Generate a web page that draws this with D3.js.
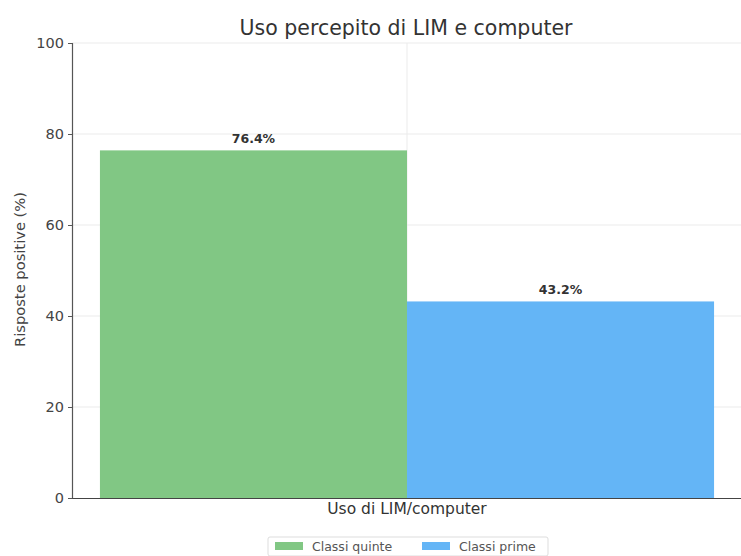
<!DOCTYPE html>
<html>
<head>
<meta charset="utf-8">
<script src="https://cdn.jsdelivr.net/npm/d3@7"></script>
<style>
  html, body { margin: 0; padding: 0; background: #fff; }
  svg { display: block; font-family: "DejaVu Sans", sans-serif; }
</style>
</head>
<body>
<svg id="chart" width="741" height="556"></svg>
<script>
// Data
const categories = ["Uso di LIM/computer"];
const seriesNames = ["Classi quinte", "Classi prime"];
const seriesColors = ["#81c784", "#64b5f6"];
const classiQuinte = [76.4];
const classiPrime = [43.2];
const yTicks = [0, 20, 40, 60, 80, 100];

const W = 741, H = 556;
const margin = { top: 43, right: -1, bottom: 58, left: 72 };
const innerW = W - margin.left - margin.right;
const innerH = H - margin.top - margin.bottom;

const svg = d3.select("#chart");
const g = svg.append("g").attr("transform", `translate(${margin.left},${margin.top})`);

const x = d3.scaleBand().domain(categories).range([0, innerW]).paddingInner(0).paddingOuter(0.0455);
const xSub = d3.scaleBand().domain(seriesNames).range([0, x.bandwidth()]);
const y = d3.scaleLinear().domain([0, 100]).range([innerH, 0]);

// Grid
g.append("g").selectAll("line.hgrid").data(yTicks.filter(d => d > 0)).join("line")
  .attr("x1", 0).attr("x2", innerW)
  .attr("y1", d => y(d)).attr("y2", d => y(d))
  .attr("stroke", "#ebebeb").attr("stroke-width", 1);
g.append("g").selectAll("line.vgrid").data(categories).join("line")
  .attr("x1", d => x(d) + x.bandwidth() / 2).attr("x2", d => x(d) + x.bandwidth() / 2)
  .attr("y1", 0).attr("y2", innerH)
  .attr("stroke", "#ebebeb").attr("stroke-width", 1);

// Bars
const series = [classiQuinte, classiPrime];
series.forEach((vals, si) => {
  const name = seriesNames[si];
  g.append("g").selectAll("rect").data(categories).join("rect")
    .attr("x", (c) => x(c) + xSub(name))
    .attr("width", xSub.bandwidth())
    .attr("y", (c, i) => y(vals[i]))
    .attr("height", (c, i) => innerH - y(vals[i]))
    .attr("fill", seriesColors[si]);
  g.append("g").selectAll("text").data(categories).join("text")
    .attr("x", (c) => x(c) + xSub(name) + xSub.bandwidth() / 2)
    .attr("y", (c, i) => y(vals[i]) - 7)
    .attr("text-anchor", "middle")
    .attr("font-size", 12.5).attr("font-weight", "bold").attr("fill", "#333")
    .text((c, i) => vals[i].toFixed(1) + "%");
});

// Y axis
const yAxis = g.append("g").call(d3.axisLeft(y).tickValues(yTicks).tickSize(4).tickPadding(4));
yAxis.select(".domain").attr("stroke", "#555").attr("stroke-width", 1.2);
yAxis.selectAll(".tick line").attr("stroke", "#555");
yAxis.selectAll(".tick text").attr("font-size", 14.5).attr("fill", "#444").attr("font-family", "DejaVu Sans, sans-serif");

// X axis
const xAxis = g.append("g").attr("transform", `translate(0,${innerH})`)
  .call(d3.axisBottom(x).tickSize(0).tickPadding(5));
xAxis.select(".domain").attr("stroke", "#444").attr("stroke-width", 1.2);
xAxis.selectAll(".tick text").attr("font-size", 15.5).attr("fill", "#333").attr("font-family", "DejaVu Sans, sans-serif");

// Title
svg.append("text").attr("x", margin.left + innerW / 2 - 1).attr("y", 35)
  .attr("text-anchor", "middle").attr("font-size", 20.5).attr("fill", "#333")
  .text("Uso percepito di LIM e computer");

// Y label
svg.append("text")
  .attr("transform", `translate(25,${margin.top + innerH / 2 - 1}) rotate(-90)`)
  .attr("text-anchor", "middle").attr("font-size", 14.7).attr("fill", "#444")
  .text("Risposte positive (%)");

// Legend
const legend = svg.append("g").attr("transform", "translate(268,537)");
legend.append("rect").attr("x", 0).attr("y", 0).attr("width", 280).attr("height", 19)
  .attr("fill", "#fff").attr("stroke", "#ddd").attr("rx", 2);
const legendX = [7, 154];
seriesNames.forEach((n, i) => {
  legend.append("rect").attr("x", legendX[i]).attr("y", 5).attr("width", 28).attr("height", 8)
    .attr("fill", seriesColors[i]);
  legend.append("text").attr("x", legendX[i] + 37).attr("y", 14)
    .attr("font-size", 12.5).attr("fill", "#555").text(n);
});
</script>
</body>
</html>
